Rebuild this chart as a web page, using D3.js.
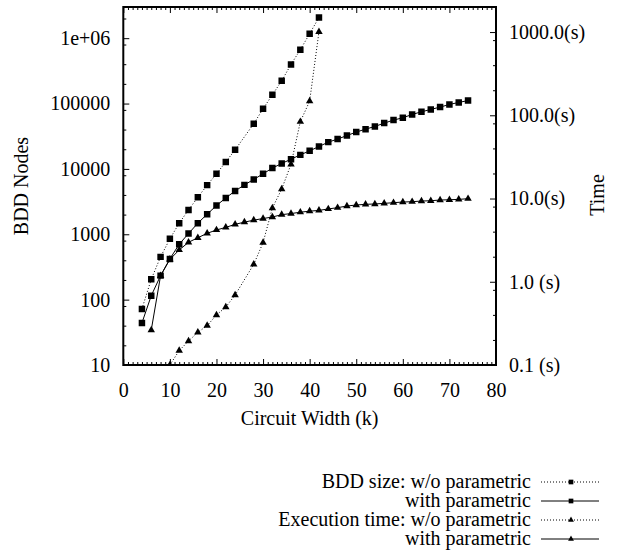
<!DOCTYPE html>
<html>
<head>
<meta charset="utf-8">
<script src="https://cdn.jsdelivr.net/npm/d3@7"></script>
<style>
    body { margin: 0; background: #fff; }
    svg { display: block; }
</style>
</head>
<body>
<div id="chart"></div>
<script>
// circuit widths (k)
const widthsWo = [4, 6, 8, 10, 12, 14, 16, 18, 20, 22, 24, 28, 30, 32, 34, 36, 38, 40, 42];
const widthsWith = [4, 6, 8, 10, 12, 14, 16, 18, 20, 22, 24, 26, 28, 30, 32, 34, 36, 38, 40,
    42, 44, 46, 48, 50, 52, 54, 56, 58, 60, 62, 64, 66, 68, 70, 72, 74];
const timeWidthsWo = [10, 12, 14, 16, 18, 20, 22, 24, 28, 30, 32, 34, 36, 38, 40, 42];
const timeWidthsWith = widthsWith.slice(1);

// BDD nodes
const bddWo = [72, 205, 451, 851, 1480, 2360, 3680, 5650, 8400, 12800, 19600, 49100, 83200,
    136000, 223000, 397000, 667000, 1170000, 2080000];
const bddWith = [44, 115, 233, 420, 705, 1025, 1480, 2030, 2750, 3600, 4600, 5700, 6900, 8410,
    10300, 12100, 14100, 16400, 18900, 22000, 25700, 28600, 32400, 36600, 40600, 44600, 50200,
    55800, 60600, 68100, 74800, 81200, 88300, 96800, 104000, 111000];

// execution time (s)
const timeWo = [0.1, 0.149, 0.194, 0.247, 0.297, 0.399, 0.497, 0.693, 1.62, 2.95, 7.7, 13.0,
    25.8, 83.7, 148, 1009];
const timeWith = [0.263, 1.18, 1.86, 2.41, 2.98, 3.38, 3.82, 4.19, 4.5, 4.9, 5.2, 5.5, 5.75,
    6.0, 6.4, 6.6, 6.85, 7.05, 7.2, 7.5, 7.76, 8.13, 8.36, 8.52, 8.6, 8.75, 8.91, 9.08, 9.16,
    9.33, 9.41, 9.59, 9.67, 9.77, 9.95];

// tick labels
const xTicks = [0, 10, 20, 30, 40, 50, 60, 70, 80];
const yTicks = [10, 100, 1000, 10000, 100000, 1000000];
const yLabels = ['10', '100', '1000', '10000', '100000', '1e+06'];
const y2Ticks = [0.1, 1, 10, 100, 1000];
const y2Labels = ['0.1 (s)', '1.0 (s)', '10.0(s)', '100.0(s)', '1000.0(s)'];

const legendLabels = ['BDD size: w/o parametric', 'with parametric',
    'Execution time: w/o parametric', 'with parametric'];

const W = 618;
const H = 552;
const margin = { top: 7, left: 123.3, right: 122, bottom: 187 };
const plotW = W - margin.left - margin.right;
const plotH = H - margin.top - margin.bottom;
const font = '"Liberation Serif", "Times New Roman", serif';

const x = d3.scaleLinear().domain([0, 80]).range([0, plotW]);
const y = d3.scaleLog().domain([10, 3e6]).range([plotH, 0]);
const y2 = d3.scaleLog().domain([0.1, 2000]).range([plotH, 0]);

const minorLog = (lo, hi) => {
    const out = [];
    for (let d = lo; d <= hi; d *= 10) {
        [2, 4, 8].forEach(m => { if (d * m <= hi) out.push(d * m); });
    }
    return out;
};
const xMinor = d3.range(0, 81).filter(v => v % 10 !== 0);

const svg = d3.select('#chart')
    .append('svg')
    .attr('width', W)
    .attr('height', H)
    .style('font-family', font);

const g = svg.append('g')
    .attr('transform', `translate(${margin.left},${margin.top})`);

g.append('clipPath')
    .attr('id', 'clip')
    .append('rect')
    .attr('width', plotW)
    .attr('height', plotH);

function styleAxis(sel) {
    sel.attr('font-family', font).attr('font-size', 20);
    sel.select('.domain').remove();
    sel.selectAll('line').attr('stroke', '#000');
    sel.selectAll('text').attr('fill', '#000');
}

// x axis, bottom and top
g.append('g')
    .attr('transform', `translate(0,${plotH})`)
    .call(d3.axisBottom(x).tickValues(xMinor).tickSizeInner(-3).tickSizeOuter(0).tickFormat(''))
    .call(styleAxis);
g.append('g')
    .attr('transform', `translate(0,${plotH})`)
    .call(d3.axisBottom(x).tickValues(xTicks).tickSizeInner(-6).tickSizeOuter(0).tickPadding(18)
        .tickFormat(d3.format('d')))
    .call(styleAxis);
g.append('g')
    .call(d3.axisTop(x).tickValues(xMinor).tickSizeInner(-3).tickSizeOuter(0).tickFormat(''))
    .call(styleAxis);
g.append('g')
    .call(d3.axisTop(x).tickValues(xTicks).tickSizeInner(-6).tickSizeOuter(0).tickFormat(''))
    .call(styleAxis);

// left axis
g.append('g')
    .call(d3.axisLeft(y).tickValues(minorLog(10, 3e6)).tickSizeInner(-3).tickSizeOuter(0).tickFormat(''))
    .call(styleAxis);
g.append('g')
    .call(d3.axisLeft(y).tickValues(yTicks).tickSizeInner(-6).tickSizeOuter(0).tickPadding(13)
        .tickFormat((d, i) => yLabels[i]))
    .call(styleAxis);

// right axis
g.append('g')
    .attr('transform', `translate(${plotW},0)`)
    .call(d3.axisRight(y2).tickValues(minorLog(0.1, 2000)).tickSizeInner(-3).tickSizeOuter(0).tickFormat(''))
    .call(styleAxis);
g.append('g')
    .attr('transform', `translate(${plotW},0)`)
    .call(d3.axisRight(y2).tickValues(y2Ticks).tickSizeInner(-6).tickSizeOuter(0).tickPadding(13)
        .tickFormat((d, i) => y2Labels[i]))
    .call(styleAxis);

// frame
g.append('rect')
    .attr('width', plotW)
    .attr('height', plotH)
    .attr('fill', 'none')
    .attr('stroke', '#000')
    .attr('stroke-width', 2);

// axis titles
svg.append('text')
    .attr('x', margin.left + plotW / 2)
    .attr('y', 425)
    .attr('text-anchor', 'middle')
    .attr('font-size', 20)
    .text('Circuit Width (k)');
svg.append('text')
    .attr('transform', `translate(28,${margin.top + plotH / 2}) rotate(-90)`)
    .attr('text-anchor', 'middle')
    .attr('font-size', 20)
    .text('BDD Nodes');
svg.append('text')
    .attr('transform', `translate(604,195) rotate(-90)`)
    .attr('text-anchor', 'middle')
    .attr('font-size', 20)
    .text('Time');

const square = d3.symbol().type(d3.symbolSquare).size(42);
const triangle = d3.symbol().type(d3.symbolTriangle).size(24);
const smallSquare = d3.symbol().type(d3.symbolSquare).size(22);
const smallTriangle = d3.symbol().type(d3.symbolTriangle).size(15);

const series = [
    { xs: widthsWo, ys: bddWo, scale: y, dash: '1,2', marker: square, key: smallSquare },
    { xs: widthsWith, ys: bddWith, scale: y, dash: null, marker: square, key: smallSquare },
    { xs: timeWidthsWo, ys: timeWo, scale: y2, dash: '1,2', marker: triangle, key: smallTriangle },
    { xs: timeWidthsWith, ys: timeWith, scale: y2, dash: null, marker: triangle, key: smallTriangle },
];

const plot = g.append('g').attr('clip-path', 'url(#clip)');

series.forEach(s => {
    const pts = s.xs.map((v, i) => [v, s.ys[i]]);
    const line = d3.line()
        .x(d => x(d[0]))
        .y(d => s.scale(d[1]));

    plot.append('path')
        .datum(pts)
        .attr('d', line)
        .attr('fill', 'none')
        .attr('stroke', '#000')
        .attr('stroke-width', 1)
        .attr('stroke-dasharray', s.dash);

    plot.append('g')
        .selectAll('path')
        .data(pts)
        .join('path')
        .attr('d', s.marker)
        .attr('transform', d => `translate(${x(d[0])},${s.scale(d[1])})`)
        .attr('fill', '#000');
});

// legend
const legend = svg.append('g')
    .attr('transform', 'translate(0,482)');

series.forEach((s, i) => {
    const row = legend.append('g')
        .attr('transform', `translate(0,${i * 19})`);
    row.append('text')
        .attr('x', 531)
        .attr('y', 5.5)
        .attr('text-anchor', 'end')
        .attr('font-size', 20)
        .text(legendLabels[i]);
    row.append('line')
        .attr('x1', 541)
        .attr('x2', 599)
        .attr('stroke', '#000')
        .attr('stroke-width', 1)
        .attr('stroke-dasharray', s.dash);
    row.append('path')
        .attr('d', s.key)
        .attr('transform', 'translate(571,0)')
        .attr('fill', '#000');
});
</script>
</body>
</html>
